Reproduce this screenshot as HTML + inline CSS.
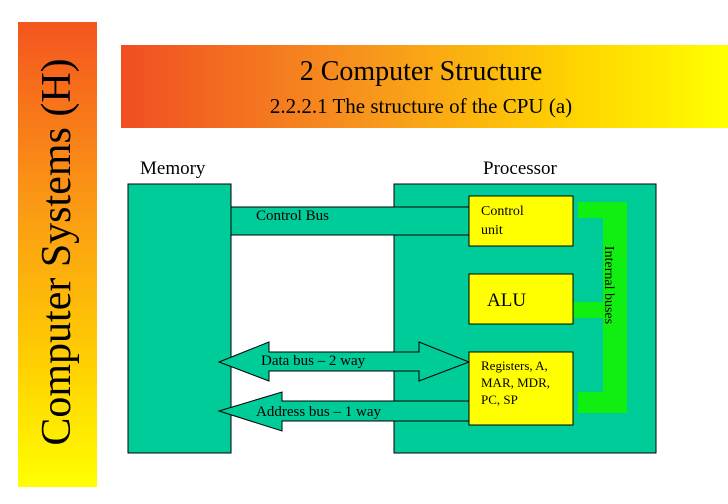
<!DOCTYPE html>
<html><head><meta charset="utf-8"><style>
html,body{margin:0;padding:0;background:#fff;}
body{width:728px;height:504px;position:relative;overflow:hidden;font-family:"Liberation Serif",serif;}
.a{position:absolute;}
</style></head><body>
<div class="a" style="left:18px;top:22px;width:79px;height:465px;background:linear-gradient(#f4551f,#fb9a14 40%,#ffd200 75%,#ffff00);"></div>
<div class="a" style="left:57px;top:252px;width:0;height:0;">
<div style="position:absolute;left:-230px;top:-25px;width:460px;text-align:center;transform:rotate(-90deg);font-size:42px;white-space:nowrap;color:#000;line-height:50px;">Computer Systems (H)</div>
</div>
<div class="a" style="left:121px;top:45px;width:607px;height:83px;background:linear-gradient(90deg,#f04e23,#f7941d 40%,#ffd400 75%,#ffff00);"></div>
<div class="a" style="left:121px;top:56px;width:600px;text-align:center;font-size:28px;">2 Computer Structure</div>
<div class="a" style="left:121px;top:94px;width:600px;text-align:center;font-size:21px;">2.2.2.1 The structure of the CPU (a)</div>
<div class="a" style="left:140px;top:158px;font-size:19px;">Memory</div>
<div class="a" style="left:483px;top:158px;font-size:19px;">Processor</div>
<svg class="a" style="left:0;top:0" width="728" height="504">
<g stroke="#000" stroke-width="1">
<rect x="128" y="184" width="103" height="269" fill="#00cc99"/>
<rect x="394" y="184" width="262" height="269" fill="#00cc99"/>
<rect x="231" y="207" width="238" height="28" fill="#00cc99"/>
<polygon points="219,362 269,342 269,352 419,352 419,342 469,362 419,381 419,371 269,371 269,381" fill="#00cc99"/>
<polygon points="219,411 282,392 282,401 469,401 469,421 282,421 282,431" fill="#00cc99"/>
</g>
<path d="M578,202 H627 V413 H578 V392 H603 V218 H578 Z M573,302 H603 V318 H573 Z" fill="#11ee11"/>
<g stroke="#000" stroke-width="1" fill="#ffff00">
<rect x="469" y="196" width="104" height="50"/>
<rect x="469" y="274" width="104" height="50"/>
<rect x="469" y="352" width="104" height="73"/>
</g>
</svg>
<div class="a" style="left:256px;top:208px;font-size:15px;">Control Bus</div>
<div class="a" style="left:481px;top:202px;font-size:14px;line-height:19px;">Control<br>unit</div>
<div class="a" style="left:487px;top:290px;font-size:19px;">ALU</div>
<div class="a" style="left:481px;top:357px;font-size:13px;line-height:17px;">Registers, A,<br>MAR, MDR,<br>PC, SP</div>
<div class="a" style="left:261px;top:353px;font-size:15px;">Data bus – 2 way</div>
<div class="a" style="left:256px;top:404px;font-size:15px;">Address bus – 1 way</div>
<div class="a" style="left:608px;top:285px;width:0;height:0;">
<div style="position:absolute;left:-60px;top:-9px;width:120px;text-align:center;transform:rotate(90deg);font-size:14px;white-space:nowrap;line-height:18px;">Internal buses</div>
</div>
</body></html>
